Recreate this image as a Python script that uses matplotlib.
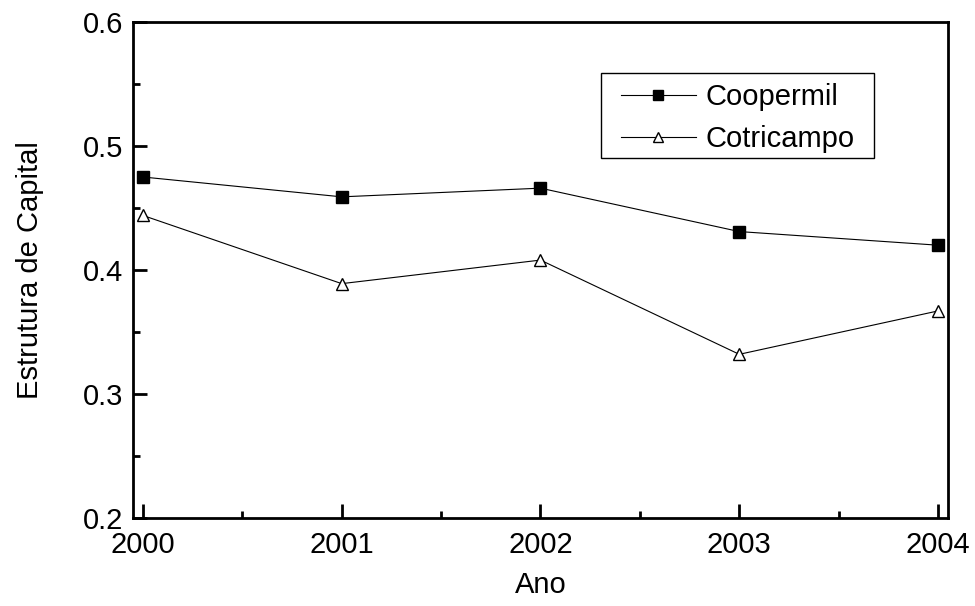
import matplotlib
matplotlib.use("Agg")
import matplotlib.pyplot as plt
from matplotlib.ticker import MultipleLocator
from matplotlib.patches import Rectangle

plt.rcParams['font.family'] = ['Liberation Sans', 'DejaVu Sans']

anos = [2000, 2001, 2002, 2003, 2004]
coopermil = [0.475, 0.459, 0.466, 0.431, 0.420]
cotricampo = [0.444, 0.389, 0.408, 0.332, 0.367]

fig = plt.figure(figsize=(9.75, 6.06), dpi=100)
ax = fig.add_axes([0.1364, 0.1452, 0.8359, 0.8185])

ax.plot(anos, coopermil, '-', color='black', lw=0.8, marker='s', ms=9,
        mfc='black', mec='black', label='Coopermil')
ax.plot(anos, cotricampo, '-', color='black', lw=0.8, marker='^', ms=9,
        mfc='white', mec='black', mew=1.0, label='Cotricampo')

ax.set_xlim(1999.95, 2004.05)
ax.set_ylim(0.2, 0.6)
ax.xaxis.set_major_locator(MultipleLocator(1))
ax.xaxis.set_minor_locator(MultipleLocator(0.5))
ax.yaxis.set_major_locator(MultipleLocator(0.1))
ax.yaxis.set_minor_locator(MultipleLocator(0.05))
ax.tick_params(which='both', direction='in', top=False, right=False, width=2, labelsize=21)
ax.tick_params(which='major', length=10)
ax.tick_params(axis='x', which='major', pad=9)
ax.tick_params(axis='y', which='major', pad=7)
ax.tick_params(which='minor', length=5)
for s in ax.spines.values():
    s.set_linewidth(2)

ax.set_xlabel('Ano', fontsize=21, labelpad=9)
ax.set_ylabel('Estrutura de Capital', fontsize=21, labelpad=28)

# legend without its own frame; box drawn separately to match the spacing
leg = ax.legend(loc='upper left', bbox_to_anchor=(0.599, 0.877), fontsize=21,
                frameon=False, handlelength=2.55, borderpad=0, borderaxespad=0,
                labelspacing=0.48, handletextpad=0.35, markerscale=0.85)
ax.add_patch(Rectangle((0.574, 0.726), 0.335, 0.171, transform=ax.transAxes,
                       fill=False, edgecolor='black', lw=1.0, zorder=5))

fig.savefig('out.png', dpi=100)
